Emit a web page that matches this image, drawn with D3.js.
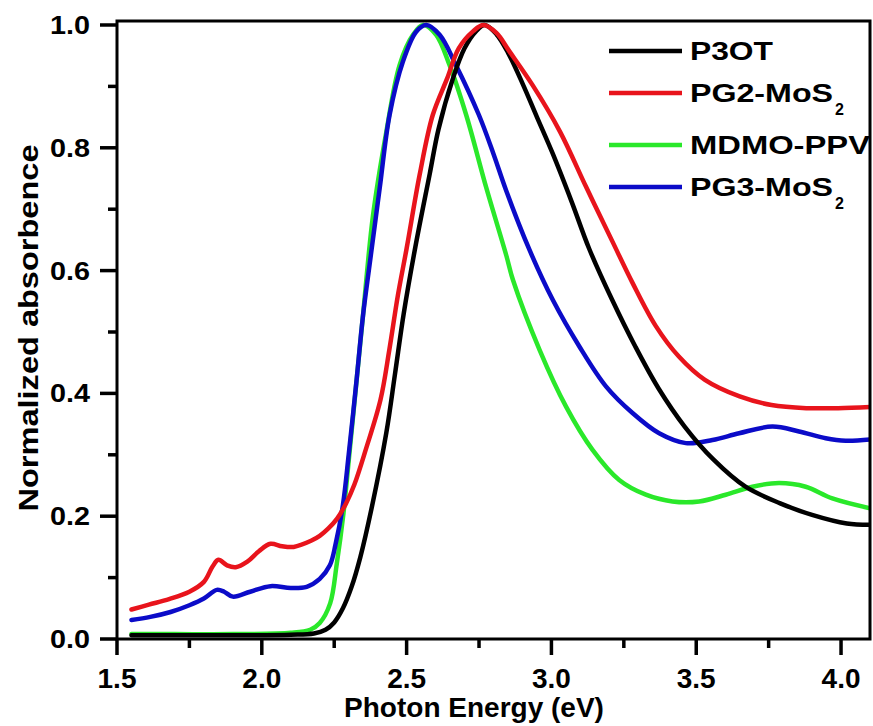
<!DOCTYPE html>
<html>
<head>
<meta charset="utf-8">
<script src="https://cdn.jsdelivr.net/npm/d3@7"></script>
<style>
  html, body { margin: 0; padding: 0; background: #fff; }
  svg { display: block; }
  text { font-family: "Liberation Sans", Arial, sans-serif; font-weight: bold; fill: #000; }
</style>
</head>
<body>
<svg id="chart" width="873" height="726"></svg>
<script>
// Normalized absorbance spectra, [photon energy (eV), normalized absorbance]
const p3ot = [
  [1.55,0.006],[1.70,0.006],[1.90,0.006],[2.10,0.007],[2.18,0.009],[2.22,0.015],
  [2.25,0.027],[2.28,0.050],[2.31,0.085],[2.34,0.133],[2.38,0.215],[2.43,0.336],
  [2.46,0.432],[2.49,0.530],[2.53,0.638],[2.58,0.758],[2.61,0.830],[2.66,0.913],
  [2.70,0.962],[2.74,0.990],[2.77,1.000],[2.81,0.985],[2.85,0.955],[2.90,0.905],
  [2.95,0.850],[3.005,0.790],[3.07,0.712],[3.13,0.636],[3.21,0.552],[3.29,0.476],
  [3.37,0.408],[3.46,0.346],[3.56,0.292],[3.67,0.248],[3.79,0.221],[3.90,0.202],
  [4.02,0.188],[4.10,0.186]
];
const pg2MoS2 = [
  [1.55,0.048],[1.61,0.056],[1.68,0.065],[1.75,0.077],[1.80,0.093],[1.83,0.118],
  [1.85,0.129],[1.88,0.120],[1.91,0.117],[1.95,0.126],[1.99,0.143],[2.03,0.155],
  [2.07,0.151],[2.11,0.150],[2.17,0.160],[2.20,0.168],[2.23,0.180],[2.26,0.196],
  [2.29,0.220],[2.32,0.252],[2.36,0.310],[2.41,0.390],[2.44,0.470],[2.47,0.560],
  [2.50,0.636],[2.545,0.756],[2.59,0.853],[2.64,0.913],[2.68,0.962],[2.73,0.990],
  [2.765,1.000],[2.81,0.987],[2.855,0.957],[2.935,0.902],[3.03,0.826],[3.12,0.736],
  [3.21,0.648],[3.28,0.580],[3.36,0.510],[3.44,0.460],[3.53,0.422],[3.65,0.395],
  [3.76,0.381],[3.88,0.376],[3.99,0.376],[4.10,0.378]
];
const mdmoPpv = [
  [1.55,0.008],[1.70,0.008],[1.90,0.008],[2.10,0.010],[2.167,0.015],[2.20,0.026],
  [2.236,0.058],[2.259,0.123],[2.282,0.205],[2.30,0.290],[2.325,0.410],[2.35,0.530],
  [2.384,0.690],[2.43,0.826],[2.476,0.935],[2.522,0.984],[2.557,1.000],[2.602,0.984],
  [2.648,0.935],[2.706,0.853],[2.775,0.735],[2.844,0.625],[2.867,0.585],[2.959,0.471],
  [3.051,0.378],[3.142,0.308],[3.234,0.259],[3.326,0.235],[3.418,0.224],[3.51,0.224],
  [3.602,0.235],[3.694,0.248],[3.786,0.254],[3.878,0.248],[3.97,0.229],[4.10,0.213]
];
const pg3MoS2 = [
  [1.55,0.031],[1.615,0.036],[1.685,0.044],[1.75,0.055],[1.80,0.066],[1.845,0.080],
  [1.87,0.077],[1.90,0.069],[1.96,0.077],[2.03,0.086],[2.10,0.083],[2.155,0.085],
  [2.20,0.098],[2.235,0.120],[2.255,0.155],[2.28,0.218],[2.30,0.300],[2.326,0.416],
  [2.349,0.525],[2.372,0.609],[2.407,0.734],[2.441,0.853],[2.487,0.940],[2.533,0.989],
  [2.568,1.000],[2.614,0.984],[2.67,0.935],[2.75,0.853],[2.80,0.790],[2.844,0.730],
  [2.924,0.634],[3.005,0.552],[3.097,0.476],[3.189,0.411],[3.28,0.368],[3.372,0.335],
  [3.464,0.319],[3.556,0.324],[3.648,0.335],[3.763,0.346],[3.855,0.338],[3.947,0.327],
  [4.016,0.323],[4.10,0.325]
];

const seriesNames  = ["P3OT", "PG2-MoS", "MDMO-PPV", "PG3-MoS"];
const seriesSubs   = ["", "2", "", "2"];
const seriesColors = ["#000000", "#e8141c", "#2ae82a", "#0b0bc8"];
const seriesData   = [p3ot, pg2MoS2, mdmoPpv, pg3MoS2];

const xMajorTicks = [1.5, 2.0, 2.5, 3.0, 3.5, 4.0];
const xMinorTicks = [1.75, 2.25, 2.75, 3.25, 3.75];
const yMajorTicks = [0.0, 0.2, 0.4, 0.6, 0.8, 1.0];
const yMinorTicks = [0.1, 0.3, 0.5, 0.7, 0.9];

const svg = d3.select("#chart");
const plotLeft = 117, plotRight = 870, plotTop = 21, plotBottom = 639;

const x = d3.scaleLinear().domain([1.5, 4.1]).range([plotLeft, plotRight]);
const y = d3.scaleLinear().domain([0, 1.0065]).range([plotBottom, plotTop]);

svg.append("defs").append("clipPath").attr("id", "plotClip")
  .append("rect").attr("x", plotLeft).attr("y", plotTop)
  .attr("width", plotRight - plotLeft).attr("height", plotBottom - plotTop);

// Spectra, drawn so that P3OT overlays blue/green and PG2 is on top
const line = d3.line().x(d => x(d[0])).y(d => y(d[1])).curve(d3.curveCatmullRom.alpha(0.5));
const drawOrder = [2, 3, 0, 1];
const plot = svg.append("g").attr("clip-path", "url(#plotClip)");
drawOrder.forEach(i => {
  plot.append("path")
    .datum(seriesData[i])
    .attr("fill", "none")
    .attr("stroke", seriesColors[i])
    .attr("stroke-width", 4.5)
    .attr("stroke-linejoin", "round")
    .attr("stroke-linecap", "round")
    .attr("d", line);
});

// Outward tick marks and labels
const fmt = d3.format(".1f");
const axes = svg.append("g");
axes.selectAll("line.xmaj").data(xMajorTicks).join("line").attr("class", "xmaj")
  .attr("x1", d => x(d)).attr("x2", d => x(d))
  .attr("y1", plotBottom).attr("y2", plotBottom + 16)
  .attr("stroke", "#000").attr("stroke-width", 3.5);
axes.selectAll("line.xmin").data(xMinorTicks).join("line").attr("class", "xmin")
  .attr("x1", d => x(d)).attr("x2", d => x(d))
  .attr("y1", plotBottom).attr("y2", plotBottom + 9)
  .attr("stroke", "#000").attr("stroke-width", 3.5);
axes.selectAll("line.ymaj").data(yMajorTicks).join("line").attr("class", "ymaj")
  .attr("x1", plotLeft - 17).attr("x2", plotLeft)
  .attr("y1", d => y(d)).attr("y2", d => y(d))
  .attr("stroke", "#000").attr("stroke-width", 3.5);
axes.selectAll("line.ymin").data(yMinorTicks).join("line").attr("class", "ymin")
  .attr("x1", plotLeft - 9).attr("x2", plotLeft)
  .attr("y1", d => y(d)).attr("y2", d => y(d))
  .attr("stroke", "#000").attr("stroke-width", 3.5);

svg.append("g").selectAll("text").data(xMajorTicks).join("text")
  .attr("x", d => x(d)).attr("y", 688)
  .attr("text-anchor", "middle").attr("font-size", 28)
  .text(fmt);
svg.append("g").selectAll("text").data(yMajorTicks).join("text")
  .attr("x", 90).attr("y", d => y(d) + 9)
  .attr("text-anchor", "end").attr("font-size", 26)
  .attr("textLength", 40).attr("lengthAdjust", "spacingAndGlyphs")
  .text(fmt);

// Frame
svg.append("rect")
  .attr("x", plotLeft).attr("y", plotTop)
  .attr("width", plotRight - plotLeft).attr("height", plotBottom - plotTop)
  .attr("fill", "none").attr("stroke", "#000").attr("stroke-width", 3);

// Axis titles
svg.append("text")
  .attr("x", 474).attr("y", 717)
  .attr("text-anchor", "middle").attr("font-size", 28)
  .text("Photon Energy (eV)");
svg.append("text")
  .attr("transform", "translate(38,328) rotate(-90)")
  .attr("text-anchor", "middle").attr("font-size", 28)
  .attr("textLength", 367).attr("lengthAdjust", "spacingAndGlyphs")
  .text("Normalized absorbence");

// Legend
const legendY = [51, 93, 145, 187];
const legendWidths = [83, 143, 180, 143];
const legend = svg.append("g");
seriesNames.forEach((name, i) => {
  const ly = legendY[i];
  legend.append("line")
    .attr("x1", 609).attr("x2", 682).attr("y1", ly).attr("y2", ly)
    .attr("stroke", seriesColors[i]).attr("stroke-width", 4.5);
  legend.append("text")
    .attr("x", 690).attr("y", ly + 9)
    .attr("font-size", 25)
    .attr("textLength", legendWidths[i]).attr("lengthAdjust", "spacingAndGlyphs")
    .text(name);
  if (seriesSubs[i]) {
    legend.append("text")
      .attr("x", 690 + legendWidths[i] + 2).attr("y", ly + 22)
      .attr("font-size", 16)
      .text(seriesSubs[i]);
  }
});
</script>
</body>
</html>
